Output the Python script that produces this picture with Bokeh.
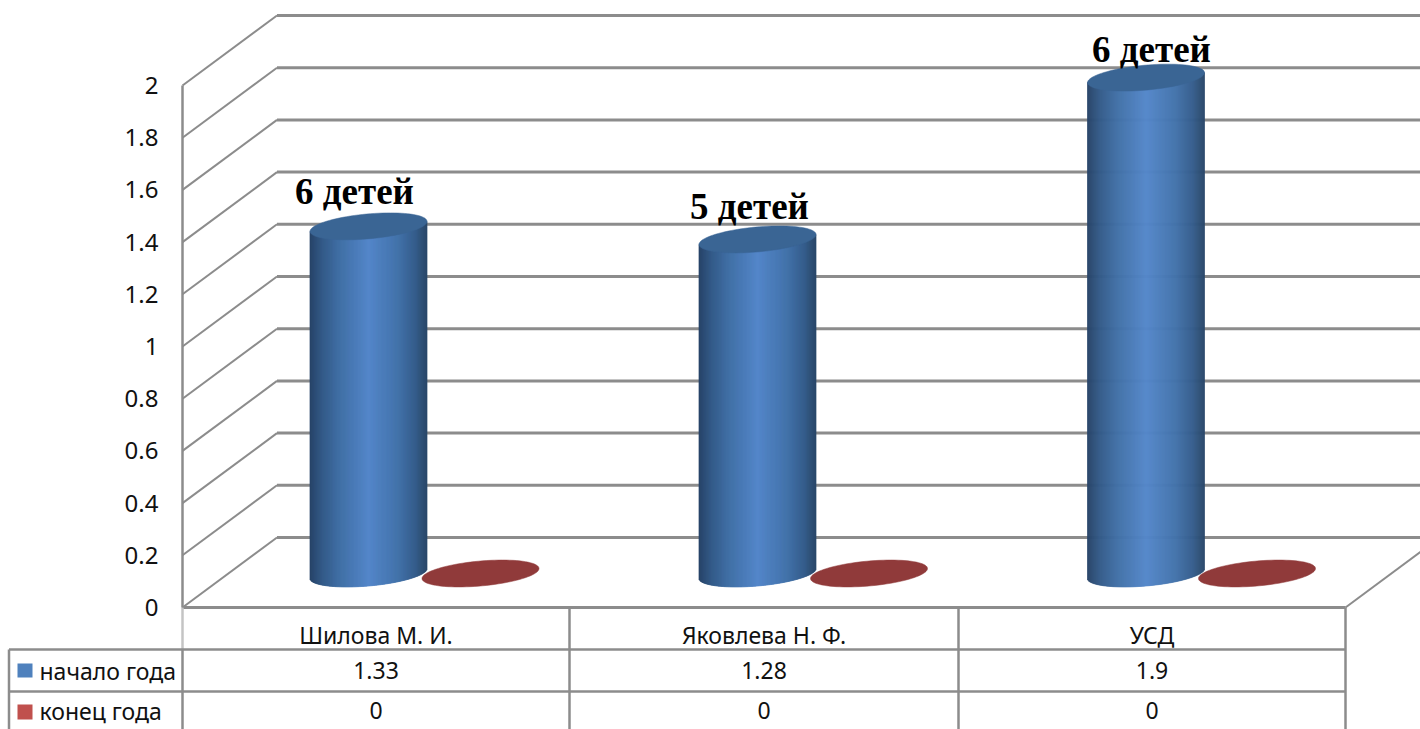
import numpy as np
from bokeh.plotting import figure
from bokeh.models import FixedTicker, Range1d
from bokeh.core.properties import value
from bokeh.embed import file_html
from bokeh.resources import INLINE

# ---- data ----
categories = ["Шилова М. И.", "Яковлева Н. Ф.", "УСД"]
start_values = [1.33, 1.28, 1.9]
end_values = [0, 0, 0]
start_labels = ["1.33", "1.28", "1.9"]
end_labels = ["0", "0", "0"]
series_names = ["начало года", "конец года"]
y_ticks = [0, 0.2, 0.4, 0.6, 0.8, 1.0, 1.2, 1.4, 1.6, 1.8, 2.0]
tick_labels = ["0", "0.2", "0.4", "0.6", "0.8", "1", "1.2", "1.4", "1.6", "1.8", "2"]
data_labels = ["6 детей", "5 детей", "6 детей"]

# ---- layout (x in page pixels, y converted to chart values) ----
W, H = 1420, 729
PX = 261.0          # pixels per value unit
Y0 = 607.0          # page y of value 0 on the front plane
def v(y):
    return (Y0 - y) / PX

GRAY = "#8c8c8c"
FONT = value("Noto Sans")
TSIZE = "23px"
LEFT, RIGHT, DX, DY = 182.0, 1345.0, 94.5, 70.0
BASE = v(573)
AW, SHEAR, BH = 58.5, 5.0, 12.5
CENTERS_A = [368, 757, 1145.5]
CENTERS_B = [480, 868.5, 1256.5]
TABLE_X = [LEFT, 569, 958, RIGHT]
ROW_Y = [634, 670, 710]
LABEL_X = [354, 749, 1151]
LABEL_Y = [191, 206, 49]

p = figure(width=W, height=H, output_backend="svg", toolbar_location=None,
           x_range=Range1d(0, W), y_range=Range1d(v(H), v(0)),
           x_axis_location=None, y_axis_location="left",
           min_border=0, min_border_left=0, min_border_right=0,
           min_border_top=0, min_border_bottom=0, outline_line_color=None)
p.grid.visible = False

ax = p.yaxis[0]
ax.fixed_location = LEFT
ax.bounds = (0, 2)
ax.ticker = FixedTicker(ticks=y_ticks)
ax.major_label_overrides = {t: s for t, s in zip(y_ticks, tick_labels)}
ax.major_label_text_font = "Noto Sans"
ax.major_label_text_font_size = "24px"
ax.major_label_text_color = "#111111"
ax.major_label_standoff = 24
ax.major_tick_out = 0
ax.major_tick_in = 0
ax.minor_tick_out = 0
ax.minor_tick_in = 0
ax.axis_line_color = GRAY
ax.axis_line_width = 2.5

# walls
d = DY / PX
p.segment([LEFT] * len(y_ticks), y_ticks, [LEFT + DX] * len(y_ticks), [t + d for t in y_ticks],
          line_color=GRAY, line_width=2)
p.segment([LEFT + DX] * len(y_ticks), [t + d for t in y_ticks], [W] * len(y_ticks),
          [t + d for t in y_ticks], line_color=GRAY, line_width=3)
p.segment([LEFT], [0], [RIGHT], [0], line_color=GRAY, line_width=3)
p.segment([RIGHT], [0], [RIGHT + DX], [d], line_color=GRAY, line_width=2)

# table
p.segment(TABLE_X[1:], [0] * 3, TABLE_X[1:], [v(H)] * 3, line_color=GRAY, line_width=2.5)
p.segment([LEFT], [0], [LEFT], [v(649)], line_color="#c4c4c4", line_width=2.5)
p.segment([LEFT], [v(649)], [LEFT], [v(H)], line_color=GRAY, line_width=2.5)
p.segment([8.5, 8.5], [v(649), v(691)], [RIGHT, RIGHT], [v(649), v(691)], line_color=GRAY, line_width=2.5)
p.segment([8.5], [v(649)], [8.5], [v(H)], line_color=GRAY, line_width=2.5)
table_cx = [(TABLE_X[i] + TABLE_X[i + 1]) / 2 for i in range(3)]
for row, texts in zip(ROW_Y, [categories, start_labels, end_labels]):
    p.text(table_cx, [v(row)] * 3, text=texts, text_font=FONT, text_font_size=TSIZE,
           text_align="center", text_baseline="middle", text_color="#111111")
p.text([39, 39], [v(ROW_Y[1]), v(ROW_Y[2])], text=series_names, text_font=FONT,
       text_font_size=TSIZE, text_align="left", text_baseline="middle", text_color="#111111")
p.quad(left=[17, 17], right=[32, 32], top=[v(663), v(704)], bottom=[v(677), v(719)],
       fill_color=["#4f81bd", "#c0504d"], line_color=None)

# gradient of the cylinders
stops_t = [0, .1, .25, .5, .75, .9, 1]
stops_c = [(0x27, 0x44, 0x68), (0x33, 0x5a, 0x88), (0x41, 0x70, 0xa6), (0x54, 0x87, 0xca),
           (0x43, 0x73, 0xab), (0x35, 0x5d, 0x8c), (0x29, 0x47, 0x69)]
def shade(t):
    return "#%02x%02x%02x" % tuple(int(np.interp(t, stops_t, [c[i] for c in stops_c])) for i in range(3))

def disc(cx, val, n=90):
    a = np.linspace(0, 2 * np.pi, n, endpoint=False)
    u = np.cos(a)
    xs = cx + AW * u
    ys = BASE + val + (SHEAR * u + BH * np.sin(a)) / PX
    return xs.tolist(), ys.tolist()

# cylinders of the first series
for cx, val in zip(CENTERS_A, start_values):
    edges = np.arange(-AW, AW, 1.0)
    L = cx + edges
    R = L + 1.0
    u = np.clip((edges + 0.5) / AW, -1, 1)
    tops = BASE + val + SHEAR * u / PX
    bottoms = BASE + (SHEAR * u - BH * np.sqrt(1 - u ** 2)) / PX
    cols = [shade((e + AW) / (2 * AW)) for e in edges]
    p.quad(left=L, right=R, top=tops, bottom=bottoms, fill_color=cols, line_color=cols, line_width=0.7)
    xs, ys = disc(cx, val)
    p.patch(xs, ys, fill_color="#3a6594", line_color="#3a6594", line_width=0.5)

# flat discs of the second series
for cx, val in zip(CENTERS_B, end_values):
    xs, ys = disc(cx, val)
    p.patch(xs, ys, fill_color="#903a3a", line_color="#903a3a", line_width=0.5)

# data labels
p.text(LABEL_X, [v(y) for y in LABEL_Y], text=data_labels, text_font=value("Liberation Serif"),
       text_font_style="bold", text_font_size="37px", text_align="center",
       text_baseline="middle", text_color="#000000")

open("out.html", "w").write(file_html(p, INLINE))
